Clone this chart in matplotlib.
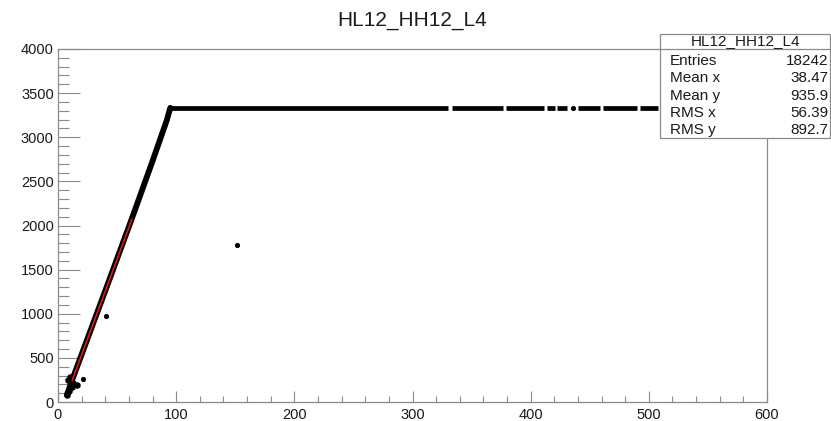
import matplotlib
matplotlib.use("Agg")
import matplotlib.pyplot as plt
from matplotlib.patches import Rectangle
from matplotlib.lines import Line2D
from matplotlib.ticker import MultipleLocator

plt.rcParams['font.family'] = ['Liberation Sans', 'DejaVu Sans']

# Data
band_x = [7.5, 12, 40, 62, 80, 92, 95]
band_y = [80, 250, 1260, 2060, 2730, 3190, 3333]
cluster_x = [7.6, 11.8, 16.0, 8.5, 10.0, 9.0, 13.0]
cluster_y = [79, 170, 193, 250, 283, 120, 210]
outlier_x = [21.4, 40.6, 151.4]
outlier_y = [260, 974, 1779]
plateau_y = 3333
plateau_start = [94.8, 333.4, 379.1, 413.8, 422.3, 440.0, 461.2, 492.5]
plateau_end = [330.0, 376.6, 411.3, 420.6, 430.7, 458.7, 489.9, 507.7]
plateau_dots = [435.8]
fit_x = [12.1, 62.6]
fit_y = [249, 2073]

title = "HL12_HH12_L4"
stats_labels = ["Entries", "Mean x", "Mean y", "RMS x", "RMS y"]
stats_values = ["18242", "38.47", "935.9", "56.39", "892.7"]

W, H = 831, 421
fig = plt.figure(figsize=(W / 100, H / 100), dpi=100)
ax = fig.add_axes([58 / W, 1 - 402 / H, 709 / W, 353 / H])

# scatter-like band and plateau
ax.plot(band_x, band_y, color='black', lw=4.2, solid_capstyle='round', zorder=2)
ax.scatter(cluster_x, cluster_y, s=22, color='black', lw=0, zorder=2)
ax.scatter(outlier_x, outlier_y, s=14, color='black', lw=0, zorder=2)
ax.hlines([plateau_y] * len(plateau_start), plateau_start, plateau_end,
          color='black', lw=3.4, zorder=2)
ax.scatter(plateau_dots, [plateau_y] * len(plateau_dots), s=14, color='black', lw=0, zorder=2)
ax.plot(fit_x, fit_y, color='#e8191e', lw=1.1, zorder=3)

ax.set_xlim(0, 600)
ax.set_ylim(0, 4000)
ax.xaxis.set_major_locator(MultipleLocator(100))
ax.xaxis.set_minor_locator(MultipleLocator(20))
ax.yaxis.set_major_locator(MultipleLocator(500))
ax.yaxis.set_minor_locator(MultipleLocator(100))

gray = '#8a8a8a'
for sp in ax.spines.values():
    sp.set_color(gray)
    sp.set_linewidth(0.9)
ax.tick_params(axis='x', which='major', direction='in', length=7.9, width=0.8,
               color=gray, labelsize=10.5, pad=4, labelcolor='#1a1a1a')
ax.tick_params(axis='x', which='minor', direction='in', length=4.3, width=0.8, color=gray)
ax.tick_params(axis='y', which='major', direction='in', length=15.8, width=0.8,
               color=gray, labelsize=10.5, pad=3, labelcolor='#1a1a1a')
ax.tick_params(axis='y', which='minor', direction='in', length=7.9, width=0.8, color=gray)

fig.text(412 / W, 1 - 20 / H, title, ha='center', va='center', fontsize=15, color='#1a1a1a')

# stats box
bx0, bx1, by0, by1 = 660, 830, 34, 138
fig.patches.append(Rectangle((bx0 / W, 1 - by1 / H), (bx1 - bx0) / W, (by1 - by0) / H,
                             transform=fig.transFigure, facecolor='white',
                             edgecolor=gray, lw=0.9, zorder=5))
fig.lines.append(Line2D([bx0 / W, bx1 / W], [1 - 49 / H, 1 - 49 / H],
                        transform=fig.transFigure, color=gray, lw=0.9, zorder=6))
fig.text((bx0 + bx1) / 2 / W, 1 - 41.5 / H, title, ha='center', va='center',
         fontsize=11, color='#1a1a1a', zorder=7)
row_y = [61, 78, 96, 113, 130]
for lab, val, yy in zip(stats_labels, stats_values, row_y):
    fig.text(670 / W, 1 - yy / H, lab, ha='left', va='center', fontsize=11,
             color='#1a1a1a', zorder=7)
    fig.text(828 / W, 1 - yy / H, val, ha='right', va='center', fontsize=11,
             color='#1a1a1a', zorder=7)

fig.savefig("out.png", dpi=100)
